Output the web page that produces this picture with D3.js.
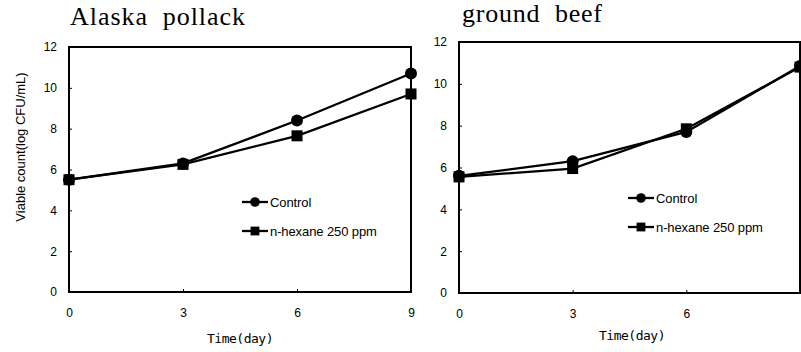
<!DOCTYPE html>
<html>
<head>
<meta charset="utf-8">
<script src="https://cdn.jsdelivr.net/npm/d3@7"></script>
<style>
  body { margin: 0; background: #fff; }
  svg { display: block; }
  .tick text { font-family: "Liberation Sans", Arial, sans-serif; font-size: 12px; fill: #000; }
</style>
</head>
<body>
<svg id="chart" width="801" height="352"></svg>
<script>
// values
const days = [0, 3, 6, 9];
const yTickValues = [0, 2, 4, 6, 8, 10, 12];
const seriesNames = ["Control", "n-hexane 250 ppm"];
const pollackControl = [5.5, 6.3, 8.4, 10.7];
const pollackHexane = [5.5, 6.25, 7.65, 9.7];
const beefControl = [5.6, 6.3, 7.7, 10.85];
const beefHexane = [5.55, 5.95, 7.85, 10.8];

const svg = d3.select("#chart");

function drawPanel(opts) {
    const x = d3.scaleLinear().domain([0, 9]).range([opts.left, opts.right]);
    const y = d3.scaleLinear().domain([0, 12]).range([opts.bottom, opts.top]);
    const g = svg.append("g");

    // frame
    g.append("rect")
        .attr("x", opts.left).attr("y", opts.top)
        .attr("width", opts.right - opts.left).attr("height", opts.bottom - opts.top)
        .attr("fill", "none").attr("stroke", "#000").attr("stroke-width", 2);

    const yAxis = g.append("g")
        .attr("transform", `translate(${opts.left},0)`)
        .call(d3.axisRight(y).tickValues(yTickValues).tickSize(3).tickPadding(0));
    yAxis.select(".domain").remove();
    yAxis.selectAll("text").attr("x", -12).attr("text-anchor", "end");

    // the right panel's last label is cut off in the original
    const xAxis = g.append("g")
        .attr("transform", `translate(0,${opts.bottom})`)
        .call(d3.axisTop(x).tickValues(days).tickSize(3).tickPadding(0)
            .tickFormat(d => opts.xLabels.includes(d) ? d : ""));
    xAxis.select(".domain").remove();
    xAxis.selectAll("text").attr("y", 21).attr("dy", "0.32em");

    // title
    g.append("text")
        .attr("x", opts.titleX).attr("y", opts.titleY)
        .attr("font-family", "'Liberation Serif', 'DejaVu Serif', serif")
        .attr("font-size", 26)
        .attr("textLength", opts.titleW).attr("lengthAdjust", "spacing")
        .attr("xml:space", "preserve")
        .text(opts.title);

    // x label
    g.append("text")
        .attr("x", opts.xLabelX).attr("y", opts.xLabelY)
        .attr("text-anchor", "middle")
        .attr("font-family", "'DejaVu Sans Mono', monospace")
        .attr("font-size", 13).attr("letter-spacing", -0.5)
        .text("Time(day)");

    const line = d3.line().x((d, i) => x(days[i])).y(d => y(d));
    const series = [opts.control, opts.hexane];
    series.forEach(vals => {
        g.append("path").datum(vals)
            .attr("d", line)
            .attr("fill", "none").attr("stroke", "#000").attr("stroke-width", 2.3);
    });
    series.forEach((vals, s) => {
        vals.forEach((v, i) => drawMarker(g, s, x(days[i]), y(v)));
    });

    // legend
    seriesNames.forEach((name, s) => {
        const ly = opts.legendY + s * 29;
        g.append("line")
            .attr("x1", opts.legendX).attr("x2", opts.legendX + 26)
            .attr("y1", ly).attr("y2", ly)
            .attr("stroke", "#000").attr("stroke-width", 2.3);
        drawMarker(g, s, opts.legendX + 13, ly, 0.8);
        g.append("text")
            .attr("x", opts.legendX + 28).attr("y", ly).attr("dy", "0.35em")
            .attr("font-family", "'Liberation Sans', Arial, sans-serif")
            .attr("font-size", 13).attr("letter-spacing", -0.1)
            .text(name);
    });
}

function drawMarker(g, s, cx, cy, k = 1) {
    if (s === 0) {
        g.append("circle").attr("cx", cx).attr("cy", cy).attr("r", 6 * k).attr("fill", "#000");
    } else {
        const a = 11 * k;
        g.append("rect").attr("x", cx - a / 2).attr("y", cy - a / 2)
            .attr("width", a).attr("height", a).attr("fill", "#000");
    }
}

drawPanel({
    left: 69, right: 411, top: 47, bottom: 292,
    title: "Alaska  pollack", titleX: 70, titleY: 25, titleW: 175,
    xLabelX: 240, xLabelY: 343, xLabels: [0, 3, 6, 9],
    control: pollackControl, hexane: pollackHexane,
    legendX: 242, legendY: 202
});

drawPanel({
    left: 459, right: 800, top: 42, bottom: 293,
    title: "ground  beef", titleX: 462, titleY: 22, titleW: 140,
    xLabelX: 632, xLabelY: 340, xLabels: [0, 3, 6],
    control: beefControl, hexane: beefHexane,
    legendX: 628, legendY: 198
});

// shared y axis label
svg.append("text")
    .attr("transform", "translate(25,147) rotate(-90)")
    .attr("text-anchor", "middle")
    .attr("font-family", "'Liberation Sans', Arial, sans-serif")
    .attr("font-size", 13)
    .text("Viable count(log CFU/mL)");
</script>
</body>
</html>
